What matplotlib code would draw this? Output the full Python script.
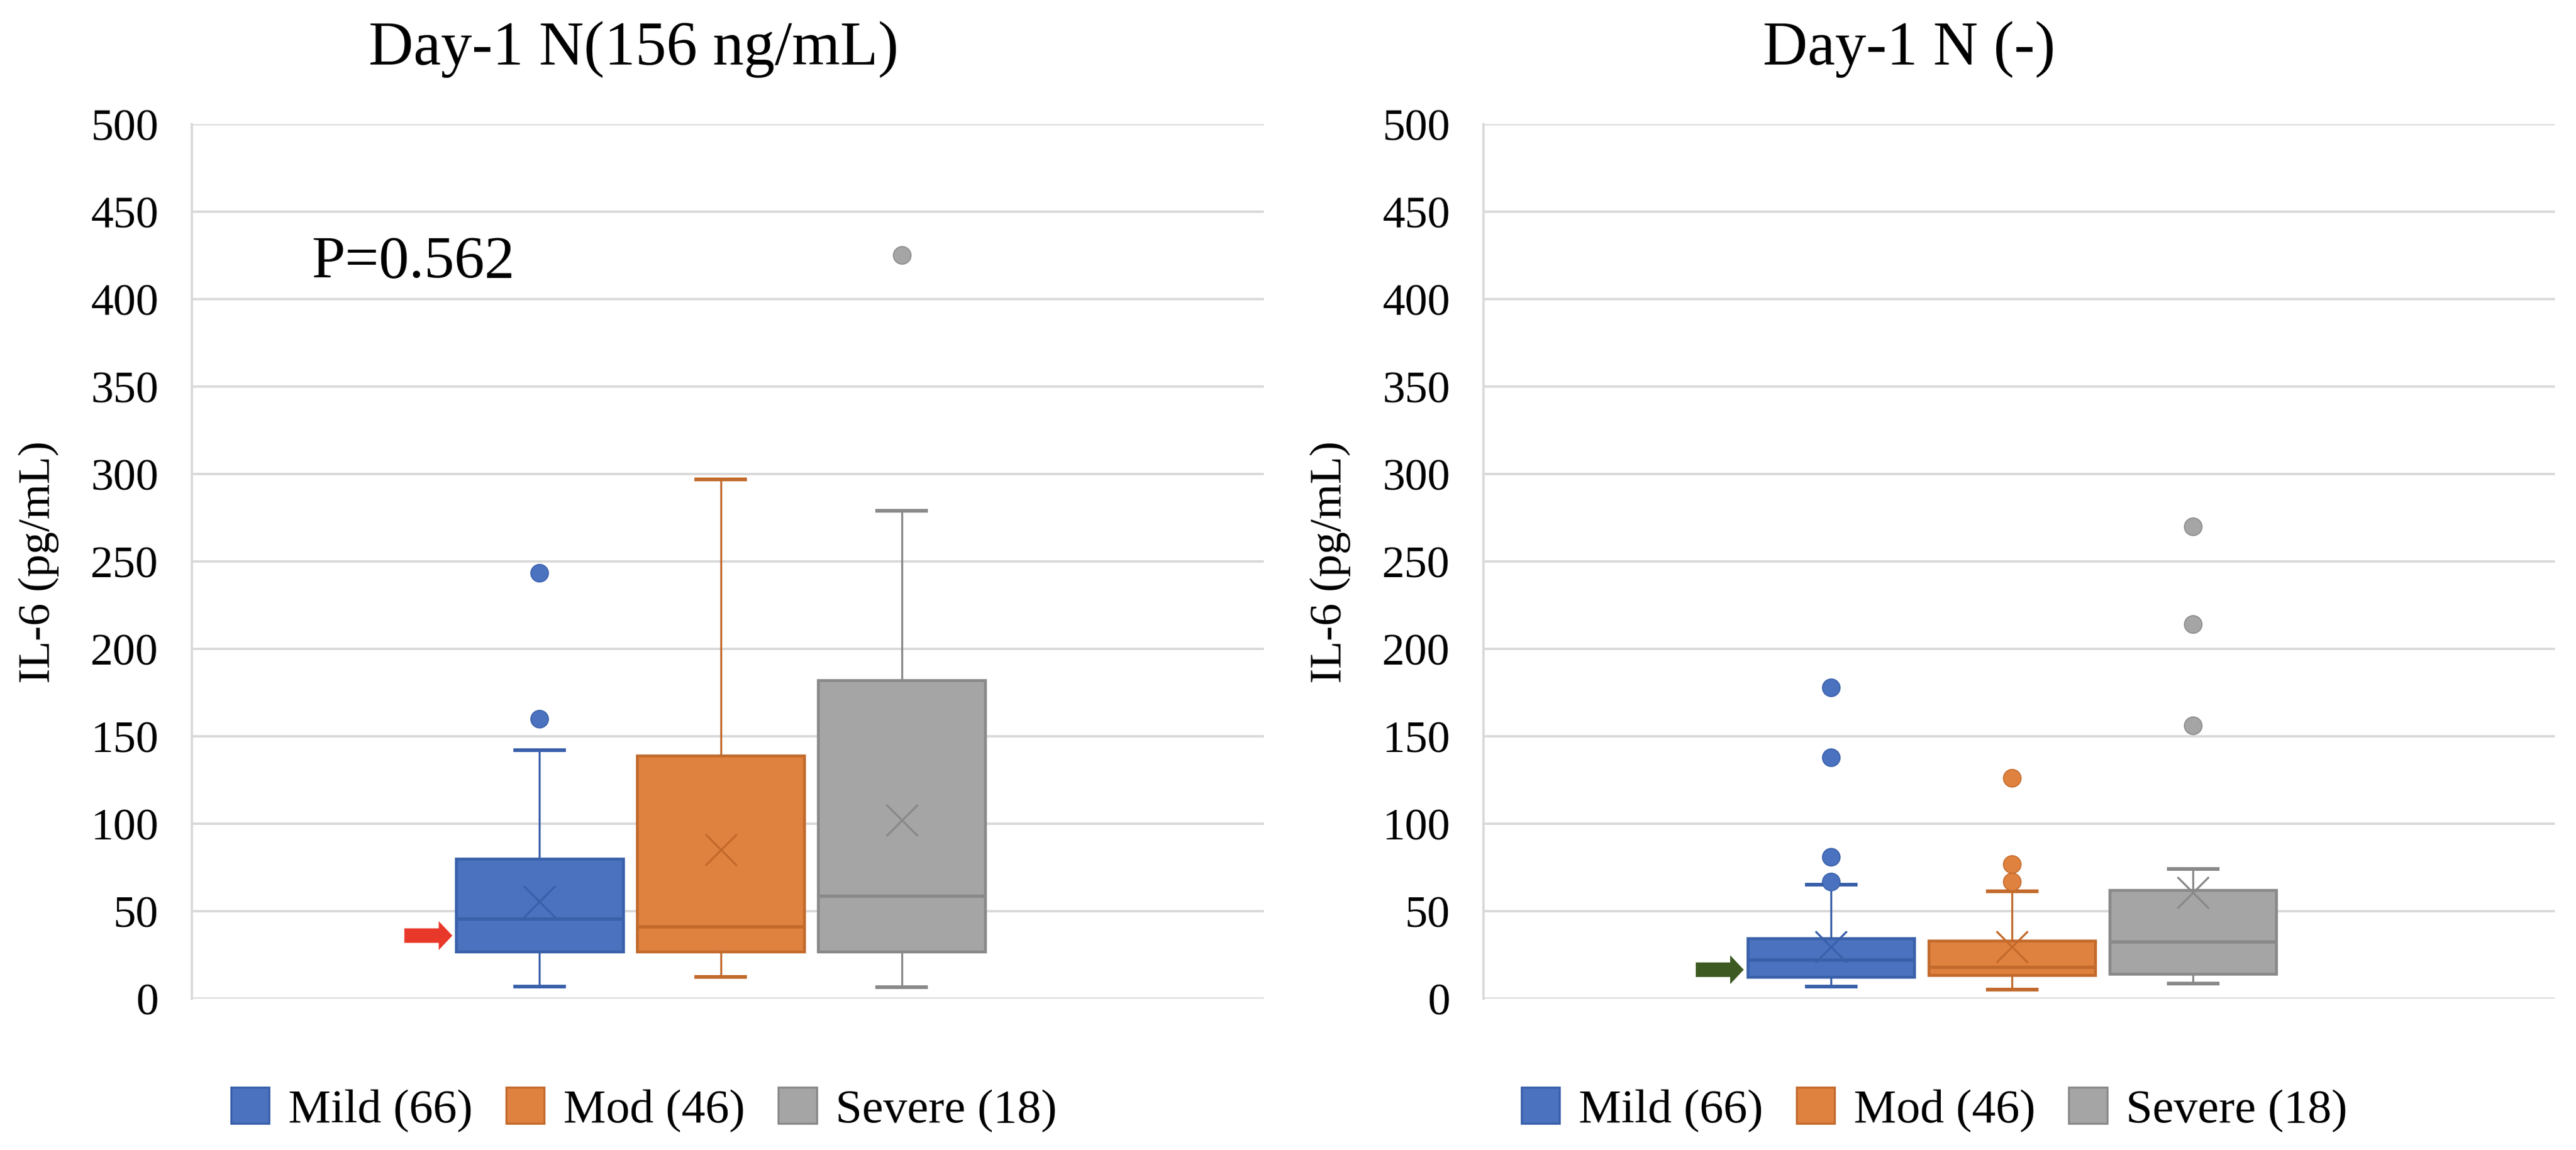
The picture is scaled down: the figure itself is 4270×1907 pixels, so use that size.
# -*- coding: utf-8 -*-
# IL-6 box plots, Day-1 N groups (two panels side by side)
import matplotlib
matplotlib.use('Agg')
import matplotlib.pyplot as plt
from matplotlib.patches import Patch

plt.rcParams['font.family'] = ['Liberation Serif', 'DejaVu Serif']

# datos
grupos = ['Mild (66)', 'Mod (46)', 'Severe (18)']
titulos = ['Day-1 N(156 ng/mL)', 'Day-1 N (-)']

# panel izquierdo: N(156 ng/mL)
izq_whislo = [7, 12.5, 6.5]
izq_q1 = [27, 27, 27]
izq_med = [45.5, 41, 58.5]
izq_q3 = [80, 139, 182]
izq_whishi = [142, 297, 279]
izq_mean = [55.5, 85, 102]
izq_fliers = [[160, 243.5], [], [425]]

# panel derecho: N (-)
der_whislo = [7, 5, 8.5]
der_q1 = [12.5, 13.5, 14]
der_med = [22, 18, 32.5]
der_q3 = [34.5, 33, 62]
der_whishi = [65, 61.5, 74]
der_mean = [29.5, 29.5, 60.5]
der_fliers = [[67, 81, 138, 178], [67, 77, 126], [156, 214, 270]]

p_texto = 'P=0.562'
flecha_y = [36, 16.5]
flecha_color = ['#E8382A', '#3E5A23']

relleno = ['#4A72BF', '#E0823F', '#A5A5A5']
borde = ['#3A60AA', '#C26A2C', '#898989']

fig = plt.figure(figsize=(21.35, 9.54), dpi=200)
axes = [fig.add_axes([0.0745, 0.1316, 0.4162, 0.760]),
        fig.add_axes([0.5759, 0.1316, 0.4159, 0.760])]

paneles = [(izq_whislo, izq_q1, izq_med, izq_q3, izq_whishi, izq_mean, izq_fliers),
           (der_whislo, der_q1, der_med, der_q3, der_whishi, der_mean, der_fliers)]

for k, ax in enumerate(axes):
    wl, q1, med, q3, wh, mn, fl = paneles[k]
    for i in range(3):
        st = [{'whislo': wl[i], 'q1': q1[i], 'med': med[i], 'q3': q3[i],
               'whishi': wh[i], 'mean': mn[i], 'fliers': fl[i]}]
        ax.bxp(st, positions=[i + 1], widths=0.923, patch_artist=True,
               showmeans=True, capwidths=0.27,
               boxprops=dict(facecolor=relleno[i], edgecolor=borde[i], linewidth=1.7),
               medianprops=dict(color=borde[i], linewidth=2.0),
               whiskerprops=dict(color=borde[i], linewidth=1.2),
               capprops=dict(color=borde[i], linewidth=2.2),
               meanprops=dict(marker='x', markersize=19, markeredgecolor=borde[i],
                              markeredgewidth=1.2),
               flierprops=dict(marker='o', markersize=10.5, markerfacecolor=relleno[i],
                               markeredgecolor=borde[i], markeredgewidth=0.6))
    ax.set_xlim(-0.92, 5.0)
    ax.set_ylim(0, 500)
    ax.set_yticks(range(0, 501, 50))
    ax.set_xticks([])
    ax.grid(axis='y', color='#D9D9D9', linewidth=1.4)
    ax.set_axisbelow(True)
    for s in ['top', 'right', 'bottom']:
        ax.spines[s].set_visible(False)
    ax.spines['left'].set_color('#D9D9D9')
    ax.spines['left'].set_linewidth(1.4)
    ax.tick_params(axis='y', length=0, pad=20, labelsize=27)
    ax.set_ylabel('IL-6 (pg/mL)', fontsize=27)
    ax.yaxis.set_label_coords(-0.124, 0.5)
    # flecha
    ax.arrow(0.253, flecha_y[k], 0.19, 0, width=8.3, head_width=16.5,
             head_length=0.075, length_includes_head=False,
             color=flecha_color[k], linewidth=0)

axes[0].text(-0.26, 421, p_texto, fontsize=36, va='center', ha='left')

fig.text(0.246, 0.957, titulos[0], fontsize=37, ha='center', va='center')
fig.text(0.741, 0.957, titulos[1], fontsize=37, ha='center', va='center')

manijas = [Patch(facecolor=relleno[i], edgecolor=borde[i], linewidth=1.2, label=grupos[i])
           for i in range(3)]
for xc in [0.25, 0.751]:
    fig.legend(handles=manijas, loc='center', bbox_to_anchor=(xc, 0.035), ncol=3,
               frameon=False, fontsize=28.5, handlelength=0.8, handleheight=0.8,
               handletextpad=0.4, columnspacing=0.7)

fig.savefig('out.png', dpi=200, facecolor='white')
